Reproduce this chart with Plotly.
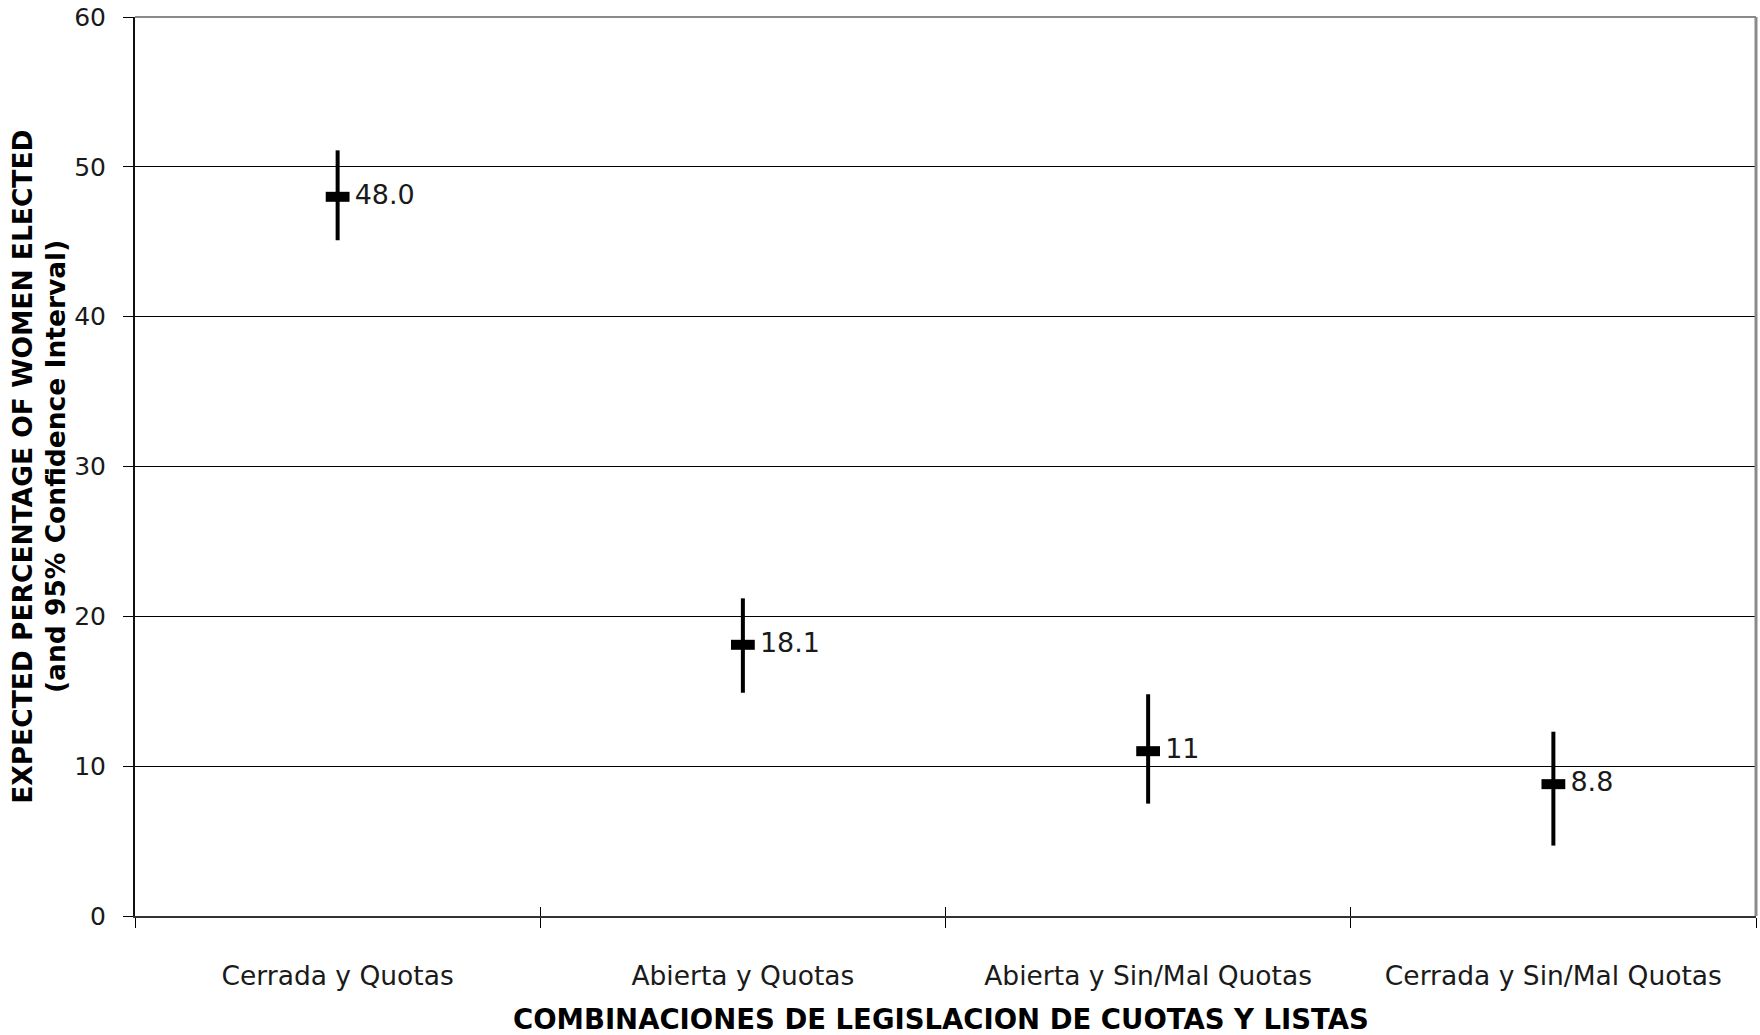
import plotly.graph_objects as go

categories = ["Cerrada y Quotas", "Abierta y Quotas", "Abierta y Sin/Mal Quotas", "Cerrada y Sin/Mal Quotas"]
expected = [48.0, 18.1, 11.0, 8.8]
ci_upper = [51.1, 21.2, 14.8, 12.3]
ci_lower = [45.1, 14.9, 7.5, 4.7]
value_labels = ["48.0", "18.1", "11", "8.8"]
y_ticks = [0, 10, 20, 30, 40, 50, 60]

err_plus = [u - m for u, m in zip(ci_upper, expected)]
err_minus = [m - l for m, l in zip(expected, ci_lower)]

FONT = "DejaVu Sans"

fig = go.Figure()
fig.add_trace(go.Scatter(
    x=categories, y=expected,
    mode="markers+text",
    text=value_labels,
    texttemplate="\u2009%{text}",
    textposition="middle right",
    textfont=dict(family=FONT, size=27, color="#1a1a1a"),
    marker=dict(symbol="line-ew", size=17, color="black",
                line=dict(color="black", width=10)),
    error_y=dict(type="data", symmetric=False, array=err_plus, arrayminus=err_minus,
                 color="black", thickness=4, width=0),
    showlegend=False, cliponaxis=False,
))
# overlay axis for the inside half of the category tick marks
fig.add_trace(go.Scatter(x=categories, y=expected, mode="none", xaxis="x2",
                         showlegend=False, hoverinfo="skip"))

fig.update_layout(
    width=1760, height=1035,
    margin=dict(l=135, r=4, t=17, b=119),
    paper_bgcolor="white", plot_bgcolor="white",
    font=dict(family=FONT, color="#1a1a1a"),
    xaxis=dict(
        type="category", categoryarray=categories, range=[-0.5, 3.5],
        tickson="boundaries", ticks="outside", ticklen=10, tickwidth=1, tickcolor="black",
        showline=True, linecolor="#333", linewidth=2,
        showgrid=False, zeroline=False,
        tickfont=dict(family=FONT, size=26.5, color="#1a1a1a"),
        ticklabelstandoff=35,
    ),
    xaxis2=dict(
        type="category", categoryarray=categories, range=[-0.5, 3.5],
        overlaying="x", side="bottom", anchor="y",
        tickson="boundaries", ticks="inside", ticklen=9, tickwidth=1, tickcolor="black",
        showticklabels=False, showline=False, showgrid=False, zeroline=False,
    ),
    yaxis=dict(
        range=[0, 60], tickmode="array", tickvals=y_ticks,
        ticktext=[str(v) for v in y_ticks],
        ticks="outside", ticklen=10, tickwidth=1, tickcolor="black",
        showline=True, linecolor="#111", linewidth=2,
        showgrid=True, gridcolor="black", gridwidth=1,
        zeroline=False,
        tickfont=dict(family=FONT, size=25, color="#1a1a1a"),
        ticklabelstandoff=12,
    ),
    shapes=[
        dict(type="line", xref="paper", yref="paper", x0=0, x1=1, y0=1, y1=1,
             line=dict(color="#8a8a8a", width=2), layer="above"),
        dict(type="line", xref="paper", yref="paper", x0=1, x1=1, y0=0, y1=1,
             line=dict(color="#8a8a8a", width=3), layer="above"),
    ],
    annotations=[
        dict(text="<b>COMBINACIONES DE LEGISLACION DE CUOTAS Y LISTAS</b>",
             xref="paper", yref="paper", x=0.4975, y=-0.1146,
             xanchor="center", yanchor="middle", showarrow=False,
             font=dict(family=FONT, size=27.5, color="black")),
        dict(text="<b>EXPECTED PERCENTAGE OF WOMEN ELECTED</b>",
             xref="paper", yref="paper", x=-0.0695, y=0.5, textangle=-90,
             xanchor="center", yanchor="middle", showarrow=False,
             font=dict(family=FONT, size=26.5, color="black")),
        dict(text="<b>(and 95% Confidence Interval)</b>",
             xref="paper", yref="paper", x=-0.049, y=0.5, textangle=-90,
             xanchor="center", yanchor="middle", showarrow=False,
             font=dict(family=FONT, size=26.5, color="black")),
    ],
)

fig.write_html("out.html", config={"displayModeBar": False},
               post_script="document.body.style.margin='0';")
